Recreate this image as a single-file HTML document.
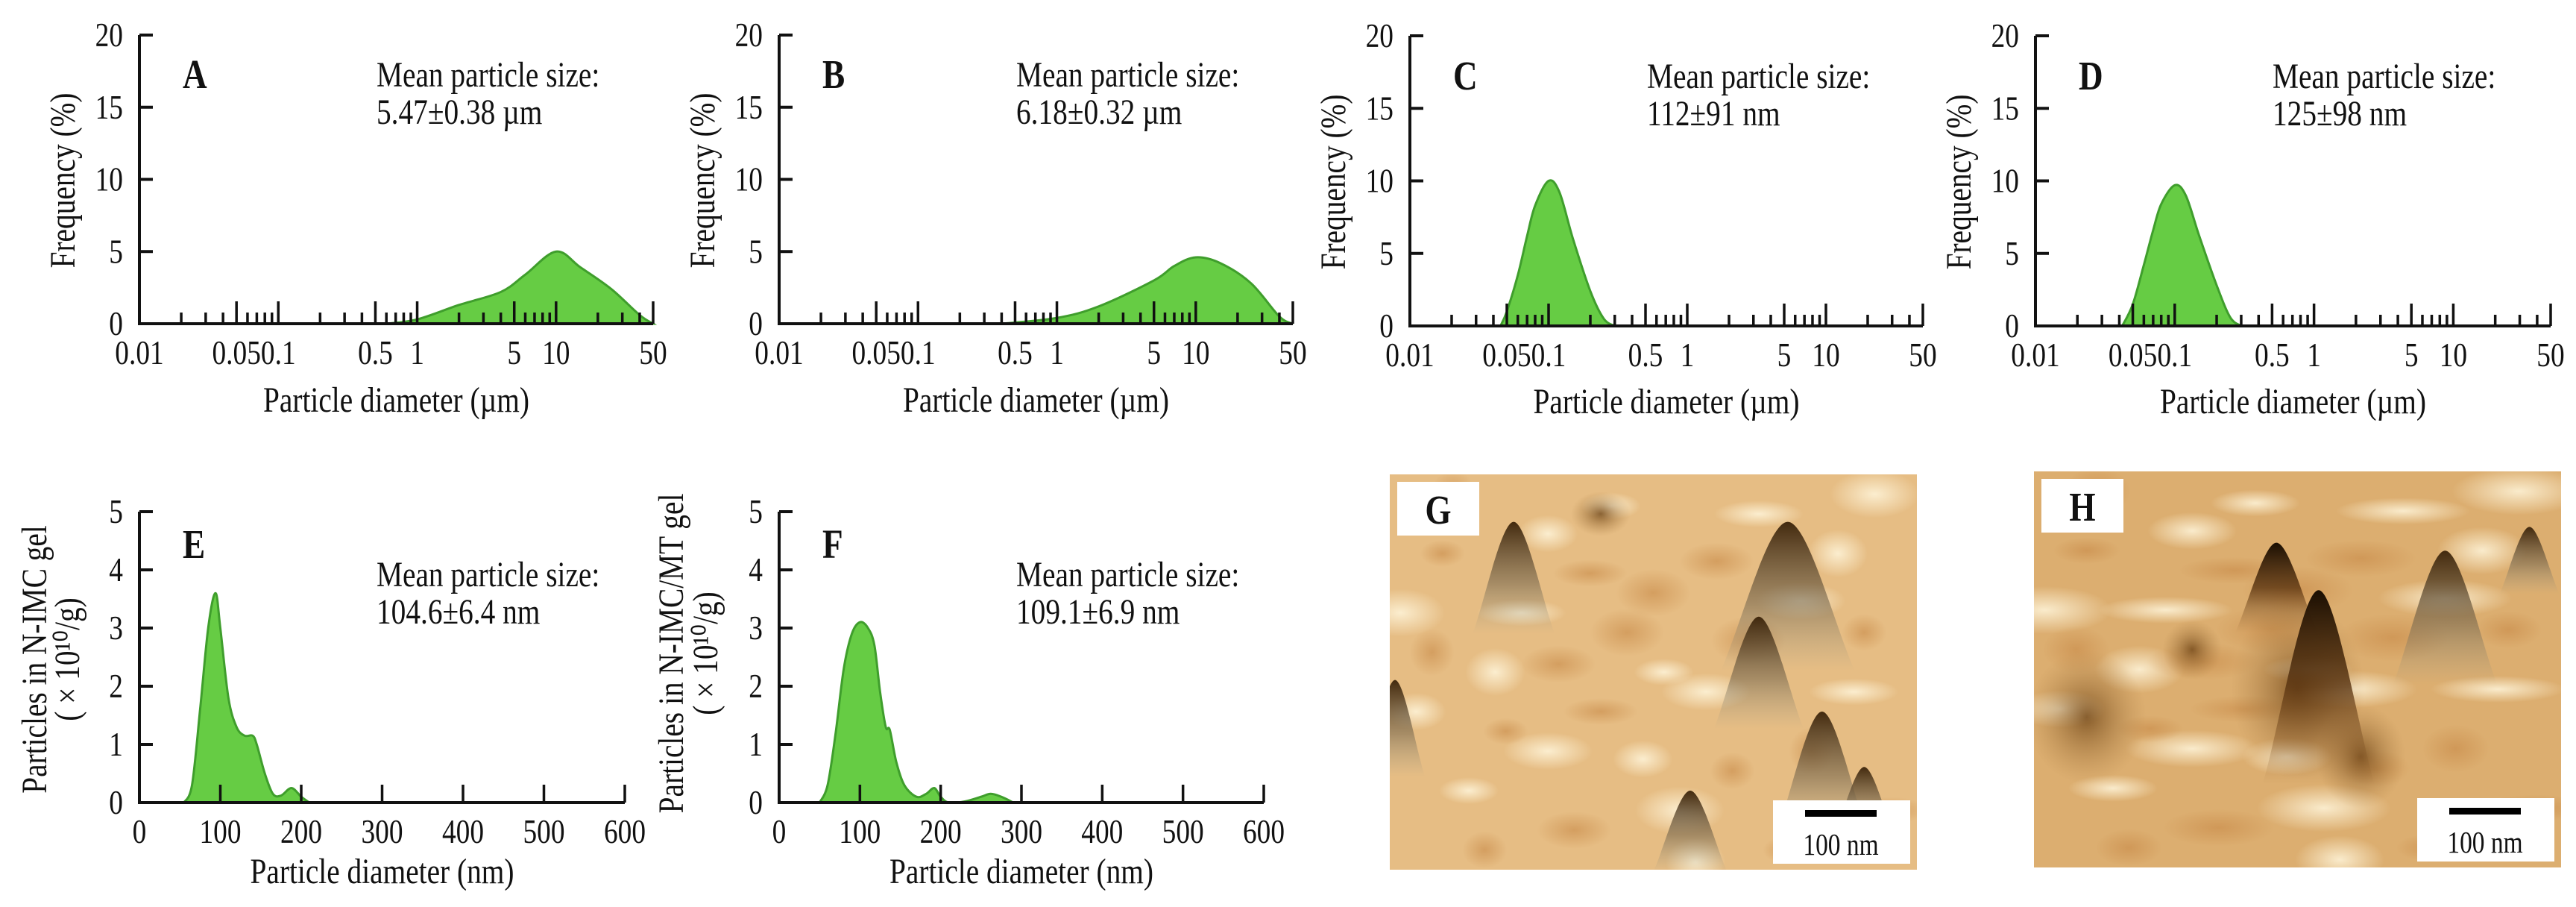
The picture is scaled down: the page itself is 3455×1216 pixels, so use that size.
<!DOCTYPE html>
<html><head><meta charset="utf-8"><style>
html,body{margin:0;padding:0;background:#fff}
svg{display:block}
text{font-family:"Liberation Serif",serif;fill:#111}
</style></head><body>
<svg id="fig" width="3455" height="1216" viewBox="0 0 3455 1216" xmlns="http://www.w3.org/2000/svg">
<defs>
<linearGradient id="pk" x1="0" y1="0" x2="0" y2="1"><stop offset="0" stop-color="#3a2208" stop-opacity="0.95"/><stop offset="0.55" stop-color="#7a6a50" stop-opacity="0.6"/><stop offset="1" stop-color="#9a9a88" stop-opacity="0"/></linearGradient>
<linearGradient id="pk2" x1="0" y1="0" x2="0" y2="1"><stop offset="0" stop-color="#1a0e02" stop-opacity="1"/><stop offset="0.5" stop-color="#5a3410" stop-opacity="0.8"/><stop offset="1" stop-color="#8a5a28" stop-opacity="0"/></linearGradient>
<radialGradient id="blob"><stop offset="0" stop-color="#6a4012" stop-opacity="0.75"/><stop offset="1" stop-color="#a87a40" stop-opacity="0"/></radialGradient>
<radialGradient id="lite"><stop offset="0" stop-color="#fff6dc" stop-opacity="0.85"/><stop offset="1" stop-color="#fff6dc" stop-opacity="0"/></radialGradient>
<radialGradient id="tan"><stop offset="0" stop-color="#c88a48" stop-opacity="0.6"/><stop offset="1" stop-color="#c88a48" stop-opacity="0"/></radialGradient>
</defs>
<g id="panels"></g>
<g id="afm"></g>
</svg>
<script>
// ---- data ----
const sizesA=[0.6,1,2,4,6,10,15,25,40,50];
const freqA=[0,0.3,1.3,2.2,3.4,5.0,3.9,2.4,0.6,0];
const sizesB=[0.4,1,2,5,7,10,15,25,40,50];
const freqB=[0,0.4,1.2,3.0,4.0,4.6,4.2,2.8,0.5,0];
const sizesC=[0.045,0.05,0.06,0.07,0.08,0.1,0.12,0.15,0.2,0.25,0.3];
const freqC=[0,1,3.5,6.2,8.3,10,9.2,6,2.4,0.5,0];
const sizesD=[0.042,0.05,0.06,0.07,0.08,0.1,0.12,0.15,0.2,0.25,0.3];
const freqD=[0,1.5,4.2,6.6,8.4,9.7,9.0,6.2,2.8,0.6,0];
const sizesE=[55,65,75,85,94,100,110,120,130,140,145,155,165,175,188,200,210];
const countE=[0,0.3,1.6,3.0,3.6,3.0,1.8,1.3,1.15,1.15,1.0,0.5,0.15,0.12,0.25,0.1,0];
const sizesF=[50,60,70,80,90,100,110,118,125,132,137,145,155,170,182,192,200,210,230,250,262,275,290];
const countF=[0,0.3,1.2,2.3,2.9,3.1,3.0,2.7,1.9,1.3,1.25,0.7,0.3,0.1,0.15,0.25,0.1,0,0.02,0.1,0.15,0.1,0];
const logLabels=["0.01","0.05","0.1","0.5","1","5","10","50"];
const logLabelVals=[0.01,0.05,0.1,0.5,1,5,10,50];
const freqTicks=[0,5,10,15,20];
const linTicks=[0,100,200,300,400,500,600];
const countTicks=[0,1,2,3,4,5];

const NS="http://www.w3.org/2000/svg";
const root=document.getElementById('panels');
const SQ=0.82;
function mk(tag,attrs,parent){const e=document.createElementNS(NS,tag);for(const k in attrs)e.setAttribute(k,attrs[k]);(parent||root).appendChild(e);return e;}
function txt(s,x,y,size,anchor,parent,weight,rot){
  const t=mk('text',{x:0,y:0,'font-size':size*1.2,'text-anchor':anchor||'start','font-family':'Liberation Serif, serif'},parent);
  t.setAttribute('transform',`translate(${x},${y})`+(rot?' rotate(-90)':'')+` scale(${SQ},1)`);
  if(weight)t.setAttribute('font-weight',weight);t.textContent=s;return t;}
function smooth(pts){let d=`M${pts[0][0]},${pts[0][1]}`;for(let i=0;i<pts.length-1;i++){const p0=pts[Math.max(0,i-1)],p1=pts[i],p2=pts[i+1],p3=pts[Math.min(pts.length-1,i+2)];const c1=[p1[0]+(p2[0]-p0[0])/6,p1[1]+(p2[1]-p0[1])/6],c2=[p2[0]-(p3[0]-p1[0])/6,p2[1]-(p3[1]-p1[1])/6];d+=` C${c1[0]},${c1[1]} ${c2[0]},${c2[1]} ${p2[0]},${p2[1]}`;}return d;}

function panel(o){
  const g=mk('g',{});
  
  
  const {x0,x1,y0,y1}=o;
  const xs=o.log? (v=>x0+(Math.log10(v)+2)/(Math.log10(50)+2)*(x1-x0)) : (v=>x0+v/600*(x1-x0));
  const ys=v=>y0-(v/o.ymax)*(y0-y1);
  const pts=o.sx.map((s,i)=>[xs(s),ys(o.sy[i])]);
  const area=mk('path',{d:smooth(pts)+` L${pts[pts.length-1][0]},${y0} L${pts[0][0]},${y0} Z`,fill:'#66cc44',stroke:'#3f9e2c','stroke-width':3},g);
  
  
  const ax=mk('path',{d:`M${x0},${y1} L${x0},${y0} L${x1},${y0}`,fill:'none',stroke:'#111','stroke-width':4},g);
  
  
  o.yt.forEach(v=>{const y=ys(v);mk('line',{x1:x0,x2:x0+18,y1:y,y2:y,stroke:'#111','stroke-width':4},g);
    const t=txt(String(v),x0-22,y+15,38,'end',g);});
  if(o.log){
    for(let e=-2;e<=1;e++)for(let m=1;m<=9;m++){const v=m*Math.pow(10,e);if(v>50.001||v<0.011)continue;
      const major=(m===1||m===5);const x=xs(v);
      mk('line',{x1:x,x2:x,y1:y0,y2:y0-(major?30:15),stroke:'#111','stroke-width':3.5},g);}
    logLabelVals.forEach((v,i)=>{const t=txt(logLabels[i],xs(v),y0+54,38,'middle',g);});
  } else {
    linTicks.forEach(v=>{const x=xs(v);if(v>0)mk('line',{x1:x,x2:x,y1:y0,y2:y0-24,stroke:'#111','stroke-width':3.5},g);
      const t=txt(String(v),x,y0+54,38,'middle',g);});
  }
  const xt=txt(o.xtitle,(x0+x1)/2,o.xty,40,'middle',g);
  
  
  o.ytitle.forEach((s,i)=>{const t=txt(s,o.ytx[i],o.yty,40,'middle',g,null,true);
    });
  const L=txt(o.letter,x0+58,o.ly,46,'start',g,'bold');
  
  
  const m1=txt('Mean particle size:',x0+318,o.my,40,'start',g);
  
  
  const m2=txt(o.mean,x0+318,o.my+50,40,'start',g);
  
  
}
const mu=' \u00b5m', pm='\u00b1';
panel({letter:'A',log:true,x0:187,x1:876,y0:434,y1:47,ymax:20,sx:sizesA,sy:freqA,yt:freqTicks,xtitle:'Particle diameter (\u00b5m)',xty:552,ytitle:['Frequency (%)'],ytx:[100],yty:242,ly:118,my:116,mean:'5.47'+pm+'0.38'+mu});
panel({letter:'B',log:true,x0:1045,x1:1734,y0:434,y1:47,ymax:20,sx:sizesB,sy:freqB,yt:freqTicks,xtitle:'Particle diameter (\u00b5m)',xty:552,ytitle:['Frequency (%)'],ytx:[958],yty:242,ly:118,my:116,mean:'6.18'+pm+'0.32'+mu});
panel({letter:'C',log:true,x0:1891,x1:2579,y0:437,y1:48,ymax:20,sx:sizesC,sy:freqC,yt:freqTicks,xtitle:'Particle diameter (\u00b5m)',xty:554,ytitle:['Frequency (%)'],ytx:[1804],yty:244,ly:120,my:118,mean:'112'+pm+'91 nm'});
panel({letter:'D',log:true,x0:2730,x1:3421,y0:437,y1:48,ymax:20,sx:sizesD,sy:freqD,yt:freqTicks,xtitle:'Particle diameter (\u00b5m)',xty:554,ytitle:['Frequency (%)'],ytx:[2643],yty:244,ly:120,my:118,mean:'125'+pm+'98 nm'});
panel({letter:'E',log:false,x0:187,x1:838,y0:1076,y1:686,ymax:5,sx:sizesE,sy:countE,yt:countTicks,xtitle:'Particle diameter (nm)',xty:1184,ytitle:['Particles in N-IMC gel','( \u00d7 10\u00b9\u2070/g)'],ytx:[62,106],yty:884,ly:748,my:786,mean:'104.6'+pm+'6.4 nm'});
panel({letter:'F',log:false,x0:1045,x1:1695,y0:1076,y1:686,ymax:5,sx:sizesF,sy:countF,yt:countTicks,xtitle:'Particle diameter (nm)',xty:1184,ytitle:['Particles in N-IMC/MT gel','( \u00d7 10\u00b9\u2070/g)'],ytx:[916,962],yty:876,ly:748,my:786,mean:'109.1'+pm+'6.9 nm'});

// ---- AFM images ----
const afm=document.getElementById('afm');
function img(letter,x,y,w,h,bg,peaks,blobs,tex){
  const g=mk('g',{},afm);
  
  
  mk('rect',{x:x,y:y,width:w,height:h,fill:bg},g);
  const cp='cp'+letter;const c=mk('clipPath',{id:cp},g);mk('rect',{x:x,y:y,width:w,height:h},c);
  const inner=mk('g',{'clip-path':`url(#${cp})`},g);
  tex.forEach(t=>mk('ellipse',{cx:x+t[0]*w,cy:y+t[1]*h,rx:t[2],ry:t[3],fill:`url(#${t[4]})`},inner));
  blobs.forEach(b=>mk('ellipse',{cx:x+b[0]*w,cy:y+b[1]*h,rx:b[2],ry:b[3],fill:'url(#blob)'},inner));
  peaks.forEach(p=>{const px=x+p[0]*w,py=y+p[1]*h,hw=p[2],hh=p[3];
    mk('path',{d:`M${px},${py} C${px+hw*0.3},${py} ${px+hw*0.7},${py+hh*0.7} ${px+hw},${py+hh} L${px-hw},${py+hh} C${px-hw*0.7},${py+hh*0.7} ${px-hw*0.3},${py} ${px},${py} Z`,fill:`url(#${p[4]||'pk'})`},inner);});
  mk('rect',{x:x+10,y:y+10,width:110,height:72,fill:'#fff'},g);
  const lt=txt(letter,x+65,y+66,46,'middle',g,'bold');
  
  
  const sb=mk('g',{},g);
  
  
  mk('rect',{x:x+w-193,y:y+h-93,width:184,height:85,fill:'#fff'},sb);
  mk('rect',{x:x+w-150,y:y+h-80,width:96,height:9,fill:'#000'},sb);
  txt('100 nm',x+w-102,y+h-20,34,'middle',sb);
}
const tx=[];
const seeds=[[.1,.2],[.3,.15],[.5,.3],[.7,.1],[.9,.4],[.2,.5],[.4,.6],[.6,.55],[.8,.7],[.15,.8],[.35,.9],[.55,.85],[.75,.95],[.05,.6],[.45,.4],[.25,.35],[.65,.75],[.85,.2],[.95,.85],[.3,.7],
 [.12,.05],[.42,.08],[.62,.22],[.02,.35],[.22,.65],[.48,.72],[.68,.42],[.88,.55],[.18,.95],[.58,.98],[.38,.25],[.78,.32],[.08,.45],[.52,.5],[.32,.48],[.92,.05]];
seeds.forEach((s,i)=>tx.push([s[0],s[1],30+(i%4)*10,18+(i%3)*7,i%2?'lite':'tan']));
img('G',1864,636,707,530,'#e6bd84',
  [[0.235,0.12,55,150],[0.755,0.12,90,200],[0.70,0.36,60,150],[0.01,0.52,40,130],[0.82,0.60,60,160],[0.57,0.80,50,110],[0.90,0.74,40,90]],
  [[0.4,0.1,40,30]],tx);
img('H',2728,632,707,531,'#dcae70',
  [[0.46,0.18,55,120,'pk2'],[0.54,0.30,75,260,'pk2'],[0.78,0.20,70,180],[0.94,0.14,40,90]],
  [[0.1,0.62,80,90],[0.62,0.72,60,70],[0.5,0.55,90,120],[0.3,0.45,40,40]],
  tx.map(t=>[t[0],t[1],t[2]*1.5,t[3],t[4]]));
</script>
</body></html>
